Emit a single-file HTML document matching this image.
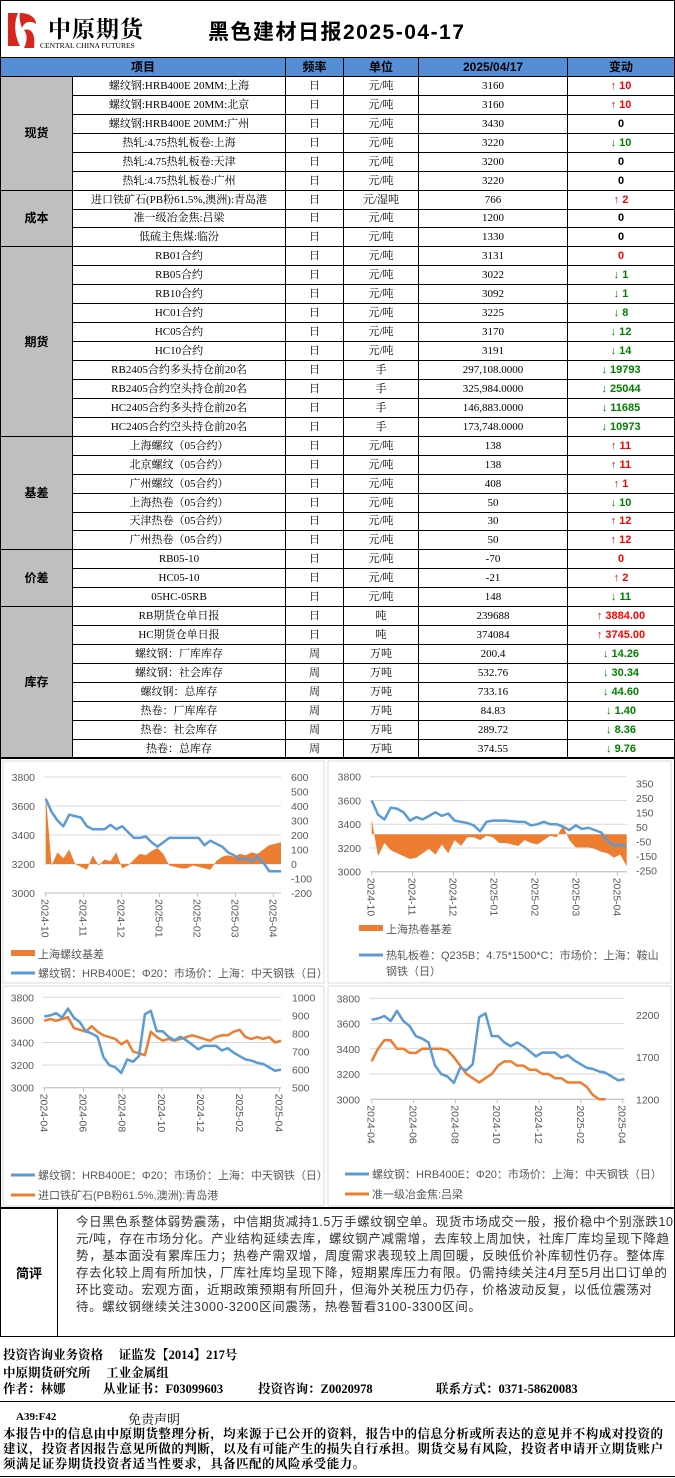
<!DOCTYPE html>
<html><head><meta charset="utf-8">
<style>
*{margin:0;padding:0;box-sizing:border-box}
body{width:675px;height:1478px;background:#fff;position:relative;font-family:"Liberation Sans","Noto Sans CJK SC",sans-serif;overflow:hidden}
.abs{position:absolute}
#hdr{left:0;top:0;width:675px;height:57px;border:1px solid #000;border-bottom:none}
table{position:absolute;left:0;top:57px;width:674px;border-collapse:collapse;table-layout:fixed}
td{border:1px solid #000;height:18.95px;font-size:11px;text-align:center;font-family:"Liberation Serif","Noto Serif CJK SC",serif;white-space:nowrap;overflow:hidden;padding:0;line-height:16px}
th{border:1px solid #000;height:18.95px;background:#558ed5;font-size:12px;font-family:"Liberation Sans","Noto Sans CJK SC",sans-serif}
td.cat{background:#bfbfbf;font-weight:bold;font-size:12px;font-family:"Liberation Sans","Noto Sans CJK SC",sans-serif}
td.up{color:#f00;font-weight:bold;font-family:"Liberation Sans","Noto Sans CJK SC",sans-serif}
td.dn{color:#008000;font-weight:bold;font-family:"Liberation Sans","Noto Sans CJK SC",sans-serif}
td.z{color:#000;font-weight:bold;font-family:"Liberation Sans",sans-serif}
td.zr{color:#f00;font-weight:bold;font-family:"Liberation Sans",sans-serif}
svg text{font-family:"Liberation Sans","Noto Sans CJK SC",sans-serif;fill:#595959}
.foot{font-family:"Liberation Serif","Noto Serif CJK SC",serif;font-weight:bold;font-size:12.5px;color:#000;white-space:nowrap}
</style></head><body>
<div id="hdr" class="abs">
 <svg class="abs" style="left:5px;top:9px" width="34" height="40">
  <rect x="0" y="0" width="34" height="40" fill="#fff"/>
  <path d="M2 3 H12 C8 12 8 24 14 36 H2 Z" fill="#d7261e"/>
  <path d="M14 3 C24 3 30 8 30 14 C24 10 18 12 16 18 C14 12 13 8 14 3Z" fill="#d7261e"/>
  <path d="M18 20 C24 18 30 22 28 38 H18 C22 30 21 24 18 20Z" fill="#d7261e"/>
 </svg>
 <div class="abs" style="left:47px;top:10px;font-size:23px;font-weight:bold;font-family:'Liberation Serif','Noto Serif CJK SC',serif;letter-spacing:1px">中原期货</div>
 <div class="abs" style="left:39px;top:40px;font-size:7.5px;font-family:'Liberation Serif',serif">CENTRAL CHINA FUTURES</div>
 <div class="abs" style="left:207px;top:15px;font-size:21px;font-weight:bold;letter-spacing:1.5px;font-family:'Liberation Sans','Noto Sans CJK SC',sans-serif">黑色建材日报2025-04-17</div>
</div>
<table>
<colgroup><col style="width:72px"><col style="width:213px"><col style="width:58px"><col style="width:75px"><col style="width:149px"><col style="width:107px"></colgroup>
<tr><th colspan="2">项目</th><th>频率</th><th>单位</th><th>2025/04/17</th><th>变动</th></tr>
<tr><td class="cat" rowspan="6">现货</td><td>螺纹钢:HRB400E 20MM:上海</td><td>日</td><td>元/吨</td><td>3160</td><td class="up">↑ 10</td></tr>
<tr><td>螺纹钢:HRB400E 20MM:北京</td><td>日</td><td>元/吨</td><td>3160</td><td class="up">↑ 10</td></tr>
<tr><td>螺纹钢:HRB400E 20MM:广州</td><td>日</td><td>元/吨</td><td>3430</td><td class="z">0</td></tr>
<tr><td>热轧:4.75热轧板卷:上海</td><td>日</td><td>元/吨</td><td>3220</td><td class="dn">↓ 10</td></tr>
<tr><td>热轧:4.75热轧板卷:天津</td><td>日</td><td>元/吨</td><td>3200</td><td class="z">0</td></tr>
<tr><td>热轧:4.75热轧板卷:广州</td><td>日</td><td>元/吨</td><td>3220</td><td class="z">0</td></tr>
<tr><td class="cat" rowspan="3">成本</td><td>进口铁矿石(PB粉61.5%,澳洲):青岛港</td><td>日</td><td>元/湿吨</td><td>766</td><td class="up">↑ 2</td></tr>
<tr><td>准一级冶金焦:吕梁</td><td>日</td><td>元/吨</td><td>1200</td><td class="z">0</td></tr>
<tr><td>低硫主焦煤:临汾</td><td>日</td><td>元/吨</td><td>1330</td><td class="z">0</td></tr>
<tr><td class="cat" rowspan="10">期货</td><td>RB01合约</td><td>日</td><td>元/吨</td><td>3131</td><td class="zr">0</td></tr>
<tr><td>RB05合约</td><td>日</td><td>元/吨</td><td>3022</td><td class="dn">↓ 1</td></tr>
<tr><td>RB10合约</td><td>日</td><td>元/吨</td><td>3092</td><td class="dn">↓ 1</td></tr>
<tr><td>HC01合约</td><td>日</td><td>元/吨</td><td>3225</td><td class="dn">↓ 8</td></tr>
<tr><td>HC05合约</td><td>日</td><td>元/吨</td><td>3170</td><td class="dn">↓ 12</td></tr>
<tr><td>HC10合约</td><td>日</td><td>元/吨</td><td>3191</td><td class="dn">↓ 14</td></tr>
<tr><td>RB2405合约多头持仓前20名</td><td>日</td><td>手</td><td>297,108.0000</td><td class="dn">↓ 19793</td></tr>
<tr><td>RB2405合约空头持仓前20名</td><td>日</td><td>手</td><td>325,984.0000</td><td class="dn">↓ 25044</td></tr>
<tr><td>HC2405合约多头持仓前20名</td><td>日</td><td>手</td><td>146,883.0000</td><td class="dn">↓ 11685</td></tr>
<tr><td>HC2405合约空头持仓前20名</td><td>日</td><td>手</td><td>173,748.0000</td><td class="dn">↓ 10973</td></tr>
<tr><td class="cat" rowspan="6">基差</td><td>上海螺纹（05合约）</td><td>日</td><td>元/吨</td><td>138</td><td class="up">↑ 11</td></tr>
<tr><td>北京螺纹（05合约）</td><td>日</td><td>元/吨</td><td>138</td><td class="up">↑ 11</td></tr>
<tr><td>广州螺纹（05合约）</td><td>日</td><td>元/吨</td><td>408</td><td class="up">↑ 1</td></tr>
<tr><td>上海热卷（05合约）</td><td>日</td><td>元/吨</td><td>50</td><td class="dn">↓ 10</td></tr>
<tr><td>天津热卷（05合约）</td><td>日</td><td>元/吨</td><td>30</td><td class="up">↑ 12</td></tr>
<tr><td>广州热卷（05合约）</td><td>日</td><td>元/吨</td><td>50</td><td class="up">↑ 12</td></tr>
<tr><td class="cat" rowspan="3">价差</td><td>RB05-10</td><td>日</td><td>元/吨</td><td>-70</td><td class="zr">0</td></tr>
<tr><td>HC05-10</td><td>日</td><td>元/吨</td><td>-21</td><td class="up">↑ 2</td></tr>
<tr><td>05HC-05RB</td><td>日</td><td>元/吨</td><td>148</td><td class="dn">↓ 11</td></tr>
<tr><td class="cat" rowspan="8">库存</td><td>RB期货仓单日报</td><td>日</td><td>吨</td><td>239688</td><td class="up">↑ 3884.00</td></tr>
<tr><td>HC期货仓单日报</td><td>日</td><td>吨</td><td>374084</td><td class="up">↑ 3745.00</td></tr>
<tr><td>螺纹钢：厂库库存</td><td>周</td><td>万吨</td><td>200.4</td><td class="dn">↓ 14.26</td></tr>
<tr><td>螺纹钢：社会库存</td><td>周</td><td>万吨</td><td>532.76</td><td class="dn">↓ 30.34</td></tr>
<tr><td>螺纹钢：总库存</td><td>周</td><td>万吨</td><td>733.16</td><td class="dn">↓ 44.60</td></tr>
<tr><td>热卷：厂库库存</td><td>周</td><td>万吨</td><td>84.83</td><td class="dn">↓ 1.40</td></tr>
<tr><td>热卷：社会库存</td><td>周</td><td>万吨</td><td>289.72</td><td class="dn">↓ 8.36</td></tr>
<tr><td>热卷：总库存</td><td>周</td><td>万吨</td><td>374.55</td><td class="dn">↓ 9.76</td></tr>
</table>
<div class="abs" style="left:0;top:757px;width:675px;height:451px;border:1px solid #000"></div>
<svg id="charts" class="abs" style="left:0;top:0" width="675" height="1478"></svg>
<div class="abs" style="left:0;top:1208px;width:675px;height:129px;border:1px solid #000">
 <div class="abs" style="left:0;top:0;width:57px;height:127px;border-right:1px solid #000;font-weight:bold;font-size:13px;display:flex;align-items:center;justify-content:center">简评</div>
 <div class="abs" style="left:75px;top:5px;width:598px;font-size:12.5px;line-height:17px;letter-spacing:0.6px;color:#333">今日黑色系整体弱势震荡，中信期货减持1.5万手螺纹钢空单。现货市场成交一般，报价稳中个别涨跌10元/吨，存在市场分化。产业结构延续去库，螺纹钢产减需增，去库较上周加快，社库厂库均呈现下降趋势，基本面没有累库压力；热卷产需双增，周度需求表现较上周回暖，反映低价补库韧性仍存。整体库存去化较上周有所加快，厂库社库均呈现下降，短期累库压力有限。仍需持续关注4月至5月出口订单的环比变动。宏观方面，近期政策预期有所回升，但海外关税压力仍存，价格波动反复，以低位震荡对待。螺纹钢继续关注3000-3200区间震荡，热卷暂看3100-3300区间。</div>
</div>
<div class="abs foot" style="left:3px;top:1345px">投资咨询业务资格　 证监发【2014】217号</div>
<div class="abs foot" style="left:3px;top:1363px">中原期货研究所　 工业金属组</div>
<div class="abs foot" style="left:3px;top:1379px">作者：林娜</div>
<div class="abs foot" style="left:103px;top:1379px">从业证书：F03099603</div>
<div class="abs foot" style="left:258px;top:1379px">投资咨询：Z0020978</div>
<div class="abs foot" style="left:436px;top:1379px">联系方式：0371-58620083</div>
<div class="abs" style="left:0;top:1401px;width:675px;height:76px;border-top:1px solid #000;border-bottom:1px solid #000">
 <div class="abs foot" style="left:16px;top:9px;font-size:11px">A39:F42</div>
 <div class="abs foot" style="left:128px;top:7px;font-size:13px;font-weight:normal">免责声明</div>
 <div class="abs foot" style="left:3px;top:25px;width:672px;white-space:normal;line-height:15px;font-size:12.5px;letter-spacing:0.45px">本报告中的信息由中原期货整理分析，均来源于已公开的资料，报告中的信息分析或所表达的意见并不构成对投资的建议，投资者因报告意见所做的判断，以及有可能产生的损失自行承担。期货交易有风险，投资者申请开立期货账户须满足证券期货投资者适当性要求，具备匹配的风险承受能力。</div>
</div>
<script>
// Chart 1: rebar spot (Shanghai) vs Shanghai rebar basis
const c1Ticks=['2024-10','2024-11','2024-12','2025-01','2025-02','2025-03','2025-04'];
const c1Rebar=[3650,3560,3500,3460,3540,3530,3520,3460,3440,3440,3440,3470,3440,3460,3420,3380,3380,3390,3350,3320,3350,3380,3380,3380,3380,3380,3380,3330,3360,3340,3320,3280,3260,3230,3240,3220,3250,3210,3150,3150,3150];
const c1Basis=[480,-10,80,40,100,0,-20,-40,60,-10,30,20,80,-30,-10,30,70,60,90,110,70,-10,-20,-30,-30,-10,-20,-30,-40,20,50,60,50,70,60,80,70,100,130,140,150];
const c1Left=[3000,3200,3400,3600,3800];
const c1Right=[-200,-100,0,100,200,300,400,500,600];
// Chart 2: hot coil spot vs Shanghai HRC basis
const c2Ticks=['2024-10','2024-11','2024-12','2025-01','2025-02','2025-03','2025-04'];
const c2Coil=[3600,3480,3440,3540,3530,3500,3430,3460,3440,3470,3500,3470,3490,3430,3420,3410,3390,3340,3420,3430,3430,3430,3425,3420,3420,3390,3400,3420,3400,3400,3380,3350,3390,3360,3370,3350,3330,3260,3220,3230,3210];
const c2Basis=[100,-150,-60,-110,-130,-150,-170,-160,-130,-100,-140,-70,-130,-40,-80,-20,-20,-40,-10,-20,-60,-60,-70,-80,-40,-60,-70,-40,-10,-20,60,-40,-90,-90,-90,-100,-120,-130,-160,-140,-220];
const c2Left=[3000,3200,3400,3600,3800];
const c2Right=[-250,-150,-50,50,150,250,350];
// Chart 3: rebar vs iron ore
const c3Ticks=['2024-04','2024-06','2024-08','2024-10','2024-12','2025-02','2025-04'];
const c3Rebar=[3630,3640,3660,3620,3700,3620,3580,3500,3480,3450,3270,3200,3180,3130,3250,3230,3280,3650,3680,3500,3500,3450,3420,3450,3420,3380,3340,3370,3370,3370,3330,3350,3310,3280,3250,3240,3220,3210,3180,3150,3160];
const c3Ore=[870,880,870,880,890,830,820,810,840,810,790,780,770,740,760,700,690,680,810,780,760,770,760,770,780,790,780,770,760,780,790,790,810,820,780,770,780,770,780,750,760];
const c3Left=[3000,3200,3400,3600,3800];
const c3Right=[500,600,700,800,900,1000];
// Chart 4: rebar vs metallurgical coke
const c4Ticks=['2024-04','2024-06','2024-08','2024-10','2024-12','2025-02','2025-04'];
const c4Rebar=[3630,3640,3660,3620,3700,3620,3580,3500,3480,3450,3270,3200,3180,3130,3250,3230,3280,3650,3680,3500,3500,3450,3420,3450,3420,3380,3340,3370,3370,3370,3330,3350,3310,3280,3250,3240,3220,3210,3180,3150,3160];
const c4Coke=[1650,1800,1900,1900,1800,1800,1750,1750,1800,1800,1800,1800,1780,1700,1600,1500,1450,1400,1450,1500,1600,1650,1650,1600,1600,1550,1550,1500,1500,1450,1450,1400,1400,1400,1350,1250,1200,1200,null,null,1200];
const c4Left=[3000,3200,3400,3600,3800];
const c4Right=[1200,1700,2200];

const NS='http://www.w3.org/2000/svg';
const root=document.getElementById('charts');
function mk(tag,attrs,parent){const e=document.createElementNS(NS,tag);for(const k in attrs)e.setAttribute(k,attrs[k]);(parent||root).appendChild(e);return e;}
function txt(x,y,s,anchor,size,parent){const t=mk('text',{x:x,y:y,'font-size':size||11,'text-anchor':anchor||'start'},parent);t.textContent=s;return t;}

function chart(o){
  const g=mk('g',{});
  
  
  const box=mk('rect',{x:o.bx,y:o.by,width:o.bw,height:o.bh,fill:'#fff',stroke:'#d9d9d9'},g);
  
  
  const lmin=o.left[0],lmax=o.left[o.left.length-1];
  const rmin=o.rMin,rmax=o.rMax;
  const yL=v=>o.y1-(v-lmin)/(lmax-lmin)*(o.y1-o.y0);
  const yR=v=>o.ry1-(v-rmin)/(rmax-rmin)*(o.ry1-o.ry0);
  const n=o.s1.length;
  const xs=i=>o.x0+i*(o.x1-o.x0)/(n-1);
  o.left.forEach(v=>{
    const l=mk('line',{x1:o.x0-2,x2:o.x1,y1:yL(v),y2:yL(v),stroke:'#d9d9d9','stroke-width':1},g);
    
    
    const t=txt(o.lx,yL(v)+4,String(v),'end',10.5,g);
    
    
  });
  o.right.forEach(v=>{
    const t=txt(o.rx,yR(v)+4,String(v),'start',10.5,g);
    
    
  });
  const ax=mk('line',{x1:o.x0,x2:o.x1,y1:o.y1,y2:o.y1,stroke:'#bfbfbf'},g);
  
  
  o.ticks.forEach((s,i)=>{
    const x=o.tx0+i*(o.tx1-o.tx0)/(o.ticks.length-1);
    mk('line',{x1:x,x2:x,y1:o.y1,y2:o.y1+4,stroke:'#bfbfbf'},g);
    const t=txt(0,0,s,'start',10.5,g);
    t.setAttribute('transform','translate('+(x-4)+','+(o.y1+6)+') rotate(90)');
    
    
  });
  if(o.area){
    const y0=yR(0);
    let d='M'+xs(0)+','+y0;
    o.area.forEach((v,i)=>{d+=' L'+xs(i)+','+yR(v);});
    d+=' L'+xs(n-1)+','+y0+' Z';
    const a=mk('path',{d:d,fill:'#ed7d31'},g);
    
    
  }
  if(o.s2){
    let d='';let pen=false;
    o.s2.forEach((v,i)=>{if(v==null){pen=false;return;}d+=(pen?' L':' M')+xs(i)+','+yR(v);pen=true;});
    const p=mk('path',{d:d,fill:'none',stroke:'#ed7d31','stroke-width':2.5,'stroke-linejoin':'round'},g);
    
    
  }
  let d='';
  o.s1.forEach((v,i)=>{d+=(i?' L':'M')+xs(i)+','+yL(v);});
  const p=mk('path',{d:d,fill:'none',stroke:'#5b9bd5','stroke-width':2.5,'stroke-linejoin':'round'},g);
  
  
  o.legend.forEach(L=>{
    const lg=mk('g',{},g);
    
    
    if(L.type==='rect')mk('rect',{x:L.x,y:L.y-4,width:24,height:6,fill:L.c},lg);
    else mk('line',{x1:L.x,x2:L.x+24,y1:L.y,y2:L.y,stroke:L.c,'stroke-width':3},lg);
    L.lines.forEach((s,k)=>txt(L.x+27,L.y+4+k*16,s,'start',11,lg));
  });
}
chart({name:'rebar-basis-chart',bx:3,by:761,bw:321,bh:222,x0:45.7,x1:281,tx0:45.7,tx1:273.3,y0:777,y1:893,lx:35,rx:291,left:c1Left,right:c1Right,rMin:-200,rMax:600,ry0:777,ry1:893,ticks:c1Ticks,s1:c1Rebar,area:c1Basis,
 legend:[{type:'rect',x:11,y:954,c:'#ed7d31',lines:['上海螺纹基差']},{type:'line',x:11,y:973,c:'#5b9bd5',lines:['螺纹钢：HRB400E：Φ20：市场价：上海：中天钢铁（日）']}]});
chart({name:'hrc-basis-chart',bx:328,by:761,bw:343,bh:222,x0:371.7,x1:626.7,tx0:371.7,tx1:617.3,y0:776.7,y1:871.7,lx:361,rx:636,left:c2Left,right:c2Right,rMin:-250,rMax:350,ry0:783.3,ry1:870.7,ticks:c2Ticks,s1:c2Coil,area:c2Basis,
 legend:[{type:'rect',x:359,y:929,c:'#ed7d31',lines:['上海热卷基差']},{type:'line',x:359,y:955,c:'#5b9bd5',lines:['热轧板卷：Q235B：4.75*1500*C：市场价：上海：鞍山','钢铁（日）']}]});
chart({name:'rebar-ore-chart',bx:3,by:986,bw:321,bh:220,x0:44.3,x1:281,tx0:44.3,tx1:279.3,y0:997.3,y1:1087.7,lx:34,rx:292,left:c3Left,right:c3Right,rMin:500,rMax:1000,ry0:997.3,ry1:1087.7,ticks:c3Ticks,s1:c3Rebar,s2:c3Ore,
 legend:[{type:'line',x:11,y:1175,c:'#5b9bd5',lines:['螺纹钢：HRB400E：Φ20：市场价：上海：中天钢铁（日）']},{type:'line',x:11,y:1195,c:'#ed7d31',lines:['进口铁矿石(PB粉61.5%,澳洲):青岛港']}]});
chart({name:'rebar-coke-chart',bx:328,by:986,bw:343,bh:220,x0:371.7,x1:624.5,tx0:371.7,tx1:622.7,y0:998.3,y1:1099.3,lx:360,rx:636,left:c4Left,right:c4Right,rMin:1200,rMax:2200,ry0:1015,ry1:1099.3,ticks:c4Ticks,s1:c4Rebar,s2:c4Coke,
 legend:[{type:'line',x:345,y:1174,c:'#5b9bd5',lines:['螺纹钢：HRB400E：Φ20：市场价：上海：中天钢铁（日）']},{type:'line',x:345,y:1194,c:'#ed7d31',lines:['准一级冶金焦:吕梁']}]});
</script>
</body></html>
